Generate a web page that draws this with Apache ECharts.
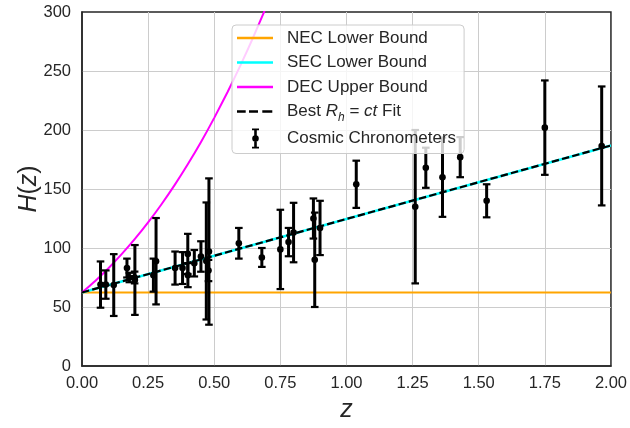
<!DOCTYPE html>
<html>
<head>
<meta charset="utf-8">
<script src="https://cdn.jsdelivr.net/npm/echarts@6/dist/echarts.min.js"></script>
<style>html,body{margin:0;padding:0;background:#fff;}#c{width:630px;height:428px;}</style>
</head>
<body>
<div id="c"></div>
<script>
// Cosmic chronometer measurements
const ccZ = [0.07, 0.09, 0.12, 0.17, 0.179, 0.199, 0.2, 0.27, 0.28, 0.352, 0.3802, 0.4, 0.4004, 0.4247, 0.4497, 0.47, 0.4783, 0.48, 0.593, 0.68, 0.75, 0.781, 0.8, 0.875, 0.88, 0.9, 1.037, 1.26, 1.3, 1.363, 1.43, 1.53, 1.75, 1.965];
const ccH = [69, 69, 68.6, 83, 75, 75, 72.9, 77, 88.8, 83, 83, 95, 77, 87.1, 92.8, 89, 80.9, 97, 104, 92, 98.8, 105, 113.1, 125, 90, 117, 154, 135, 168, 160, 177, 140, 202, 186.5];
const ccErr = [19.6, 12, 26.2, 8, 4, 5, 29.6, 14, 36.6, 14, 13.5, 17, 10.2, 11.2, 12.9, 49.6, 9, 62, 13, 8, 33.6, 12, 25.2, 17, 40, 23, 20, 65, 17, 33.6, 17, 14, 40, 50.4];

// Model lines
const lineZ = [0, 2];
const necH = [62.3, 62.3];
const secH = [62.3, 186.9];
const fitH = [62.3, 186.9];
const decZ = [0, 0.05, 0.1, 0.15, 0.2, 0.25, 0.3, 0.35, 0.4, 0.45, 0.5, 0.55, 0.6, 0.65, 0.7];
const decH = [62.3, 72.1, 82.9, 94.8, 107.7, 121.7, 136.9, 153.3, 171.0, 189.9, 210.3, 232.0, 255.2, 279.9, 306.1];

// Tick labels
const xTicks = ['0.00', '0.25', '0.50', '0.75', '1.00', '1.25', '1.50', '1.75', '2.00'];
const yTicks = ['0', '50', '100', '150', '200', '250', '300'];

const FONT = 'Liberation Sans, Arial, sans-serif';
const TXT = '#262626';
const pairs = (xs, ys) => xs.map((x, i) => [x, ys[i]]);

const BOX = 'M0,0L0.01,0L0,0.01Z M45,20L44.99,20L45,19.99Z ';
const iconLine = 'path://' + BOX + 'M0,8.8H36V11.2H0Z';
const iconDash = 'path://' + BOX + 'M0,8.8H8.7V11.2H0Z M12,8.8H21V11.2H12Z M25.3,8.8H35.3V11.2H25.3Z';
const iconErr = 'path://' + BOX + 'M17.2,0H19.8V20H17.2Z M15,0H22V1.8H15Z M15,18.2H22V20H15Z M18.5,6.7A3.3,3.3 0 1,1 18.49,6.7Z';

const chart = echarts.init(document.getElementById('c'));
chart.setOption({
  animation: false,
  backgroundColor: '#fff',
  textStyle: { fontFamily: FONT },
  grid: { left: 82, right: 17, top: 12, bottom: 61, show: true, borderColor: '#262626', borderWidth: 1.5, backgroundColor: 'transparent' },
  xAxis: {
    type: 'value', min: 0, max: 2, interval: 0.25,
    name: '{i|z}', nameLocation: 'middle', nameGap: 32,
    nameTextStyle: { rich: { i: { fontSize: 25, fontStyle: 'italic', color: TXT, fontFamily: FONT } } },
    axisLine: { show: true, onZero: false, lineStyle: { color: '#262626', width: 1.5 } },
    axisTick: { show: false },
    axisLabel: { fontSize: 16.5, color: TXT, margin: 9, formatter: (v) => xTicks[Math.round(v / 0.25)] },
    splitLine: { show: true, showMinLine: false, showMaxLine: false, lineStyle: { color: '#cccccc', width: 1 } }
  },
  yAxis: {
    type: 'value', min: 0, max: 300, interval: 50,
    name: '{i|H}{n|(}{i|z}{n|)}', nameLocation: 'middle', nameGap: 40, nameMoveOverlap: false,
    nameTextStyle: { rich: {
      i: { fontSize: 25, fontStyle: 'italic', color: TXT, fontFamily: FONT },
      n: { fontSize: 25, color: TXT, fontFamily: FONT } } },
    axisLine: { show: true, onZero: false, lineStyle: { color: '#262626', width: 1.5 } },
    axisTick: { show: false },
    axisLabel: { fontSize: 16.5, color: TXT, margin: 11, formatter: (v) => yTicks[Math.round(v / 50)] },
    splitLine: { show: true, showMinLine: false, showMaxLine: false, lineStyle: { color: '#cccccc', width: 1 } }
  },
  legend: {
    orient: 'vertical', left: 232, top: 25, z: 10,
    itemWidth: 45, itemHeight: 20, itemGap: 4.5,
    padding: [3, 8, 5, 5],
    backgroundColor: 'rgba(255,255,255,0.8)', borderColor: '#cccccc', borderWidth: 1, borderRadius: 4,
    textStyle: { fontSize: 17, color: TXT, fontFamily: FONT,
      rich: {
        it: { fontSize: 17, fontStyle: 'italic', color: TXT, fontFamily: FONT },
        sub: { fontSize: 12, fontStyle: 'italic', color: TXT, fontFamily: FONT, verticalAlign: 'bottom', padding: [0, 0, -4, 0] }
      } },
    formatter: (name) => name === 'Best Rh=ct Fit' ? 'Best {it|R}{sub|h} = {it|ct} Fit' : name,
    data: [
      { name: 'NEC Lower Bound', icon: iconLine, itemStyle: { color: '#FFA500', borderWidth: 0 } },
      { name: 'SEC Lower Bound', icon: iconLine, itemStyle: { color: '#00FFFF', borderWidth: 0 } },
      { name: 'DEC Upper Bound', icon: iconLine, itemStyle: { color: '#FF00FF', borderWidth: 0 } },
      { name: 'Best Rh=ct Fit', icon: iconDash, itemStyle: { color: '#000000', borderWidth: 0 } },
      { name: 'Cosmic Chronometers', icon: iconErr, itemStyle: { color: '#000000', borderWidth: 0 } }
    ]
  },
  series: [
    { name: 'NEC Lower Bound', type: 'line', data: pairs(lineZ, necH), symbol: 'none', color: '#FFA500', lineStyle: { color: '#FFA500', width: 2 }, z: 2 },
    { name: 'SEC Lower Bound', type: 'line', data: pairs(lineZ, secH), symbol: 'none', color: '#00FFFF', lineStyle: { color: '#00FFFF', width: 2.5 }, z: 2 },
    { name: 'DEC Upper Bound', type: 'line', data: pairs(decZ, decH), symbol: 'none', smooth: 0.2, color: '#FF00FF', lineStyle: { color: '#FF00FF', width: 2 }, z: 2 },
    { name: 'Best Rh=ct Fit', type: 'line', data: pairs(lineZ, fitH), symbol: 'none', color: '#000000', lineStyle: { color: '#000000', width: 2.2, type: [7.4, 3.2] }, z: 3 },
    {
      name: 'Cosmic Chronometers', type: 'custom', color: '#000000', z: 3,
      itemStyle: { color: '#000000' },
      data: ccZ.map((x, i) => [x, ccH[i], ccErr[i]]),
      encode: { x: 0, y: 1 },
      renderItem: (params, api) => {
        const x = api.value(0), y = api.value(1), s = api.value(2);
        const p = api.coord([x, y]);
        const t = api.coord([x, y + s]);
        const b = api.coord([x, y - s]);
        const cw = 3.8;
        const st = { stroke: '#000', lineWidth: 3 };
        return { type: 'group', children: [
          { type: 'line', shape: { x1: p[0], y1: t[1], x2: p[0], y2: b[1] }, style: st },
          { type: 'line', shape: { x1: p[0] - cw, y1: t[1], x2: p[0] + cw, y2: t[1] }, style: { stroke: '#000', lineWidth: 2.2 } },
          { type: 'line', shape: { x1: p[0] - cw, y1: b[1], x2: p[0] + cw, y2: b[1] }, style: { stroke: '#000', lineWidth: 2.2 } },
          { type: 'circle', shape: { cx: p[0], cy: p[1], r: 3.3 }, style: { fill: '#000' } }
        ] };
      }
    }
  ]
});
</script>
</body>
</html>
